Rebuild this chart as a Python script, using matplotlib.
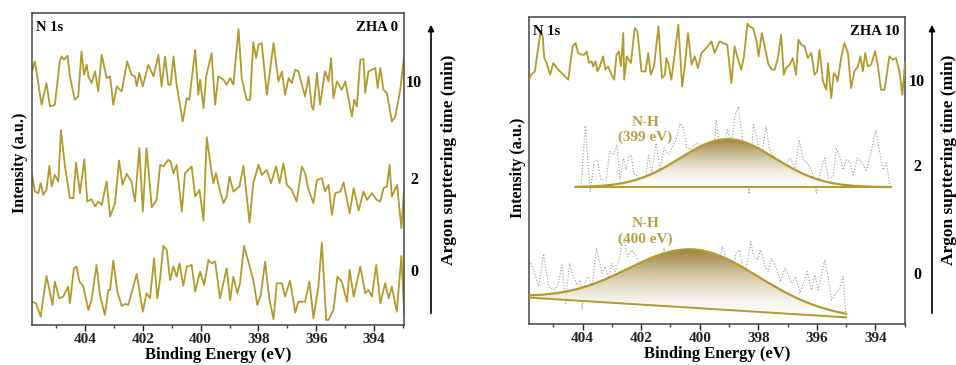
import numpy as np
import matplotlib
matplotlib.use("Agg")
import matplotlib.pyplot as plt
from matplotlib.colors import LinearSegmentedColormap
from matplotlib.patches import Polygon, FancyArrowPatch

plt.rcParams['font.family'] = ['Liberation Serif', 'DejaVu Serif']
plt.rcParams['font.weight'] = 'bold'

# ---------------- data: ZHA 0 (left panel) ----------------
zha0_10_x = [405.83, 405.73, 405.50, 405.33, 405.21, 405.04, 404.87, 404.81, 404.72, 404.60, 404.52, 404.35, 404.23, 404.12, 404.03, 403.94, 403.88, 403.77, 403.65, 403.54, 403.42, 403.25, 403.13, 403.02, 402.90, 402.73, 402.54, 402.39, 402.27, 402.21, 402.12, 402.00, 401.81, 401.63, 401.46, 401.35, 401.23, 401.12, 401.04, 400.94, 400.83, 400.62, 400.48, 400.39, 400.19, 400.08, 400.02, 399.90, 399.81, 399.62, 399.50, 399.39, 399.21, 399.10, 398.98, 398.87, 398.69, 398.58, 398.41, 398.29, 398.18, 398.08, 398.00, 397.89, 397.71, 397.48, 397.31, 397.19, 397.08, 396.96, 396.85, 396.73, 396.62, 396.50, 396.39, 396.27, 396.16, 396.10, 395.98, 395.87, 395.70, 395.58, 395.49, 395.41, 395.29, 395.12, 395.00, 394.77, 394.69, 394.60, 394.48, 394.37, 394.31, 394.20, 393.96, 393.88, 393.79, 393.68, 393.56, 393.39, 393.27, 393.10, 392.96]
zha0_10_y = [785, 815, 685, 750, 680, 685, 815, 830, 820, 832, 770, 700, 710, 845, 775, 805, 770, 750, 785, 725, 835, 765, 770, 685, 740, 725, 815, 775, 770, 740, 780, 740, 805, 770, 835, 740, 830, 745, 745, 830, 745, 635, 705, 700, 850, 715, 760, 675, 770, 840, 685, 770, 760, 745, 765, 745, 912, 765, 700, 700, 872, 825, 865, 870, 715, 870, 755, 785, 715, 765, 750, 790, 785, 745, 710, 770, 680, 670, 780, 685, 785, 755, 825, 705, 755, 730, 755, 650, 700, 680, 820, 822, 720, 785, 795, 735, 795, 730, 720, 635, 650, 730, 835]

zha0_2_x = [405.83, 405.73, 405.61, 405.53, 405.44, 405.33, 405.23, 405.15, 405.04, 404.92, 404.83, 404.69, 404.52, 404.40, 404.31, 404.17, 404.02, 403.92, 403.77, 403.65, 403.54, 403.42, 403.25, 403.13, 402.96, 402.82, 402.70, 402.56, 402.39, 402.27, 402.12, 402.00, 401.87, 401.69, 401.52, 401.40, 401.29, 401.12, 401.04, 400.94, 400.83, 400.65, 400.54, 400.31, 400.19, 400.04, 399.90, 399.79, 399.65, 399.56, 399.47, 399.33, 399.21, 399.10, 399.00, 398.87, 398.66, 398.52, 398.31, 398.18, 398.00, 397.89, 397.71, 397.57, 397.39, 397.27, 397.14, 397.02, 396.85, 396.68, 396.50, 396.39, 396.27, 396.10, 395.98, 395.81, 395.70, 395.58, 395.46, 395.35, 395.17, 395.06, 394.85, 394.71, 394.54, 394.37, 394.25, 394.08, 393.91, 393.79, 393.68, 393.56, 393.47, 393.39, 393.21, 393.06, 392.96]
zha0_2_y = [475, 425, 420, 450, 415, 430, 502, 440, 475, 455, 610, 500, 405, 405, 512, 420, 522, 395, 402, 380, 395, 385, 455, 350, 390, 518, 445, 478, 455, 395, 555, 365, 555, 378, 400, 505, 500, 520, 515, 480, 505, 365, 480, 500, 410, 430, 338, 588, 500, 450, 480, 425, 390, 410, 470, 425, 440, 502, 332, 450, 505, 475, 490, 450, 500, 450, 510, 445, 430, 395, 500, 480, 430, 390, 460, 465, 425, 445, 355, 420, 425, 452, 360, 435, 368, 425, 400, 420, 400, 395, 435, 440, 505, 410, 445, 315, 440]

zha0_0_x = [405.83, 405.69, 405.53, 405.33, 405.12, 405.04, 404.89, 404.75, 404.58, 404.52, 404.38, 404.29, 404.19, 404.06, 403.88, 403.77, 403.60, 403.48, 403.31, 403.19, 403.13, 403.02, 402.88, 402.73, 402.61, 402.50, 402.33, 402.21, 402.00, 401.87, 401.75, 401.61, 401.50, 401.40, 401.29, 401.17, 401.06, 400.94, 400.83, 400.73, 400.60, 400.48, 400.31, 400.19, 400.02, 399.88, 399.73, 399.62, 399.50, 399.33, 399.10, 398.98, 398.87, 398.73, 398.64, 398.50, 398.35, 398.18, 398.04, 397.92, 397.77, 397.63, 397.48, 397.37, 397.19, 397.08, 396.91, 396.73, 396.62, 396.39, 396.24, 396.10, 395.93, 395.81, 395.66, 395.58, 395.41, 395.27, 395.12, 394.94, 394.85, 394.71, 394.48, 394.31, 394.20, 394.08, 393.93, 393.79, 393.62, 393.50, 393.39, 393.22, 393.06, 392.96]
zha0_0_y = [95, 90, 50, 172, 85, 155, 105, 110, 140, 90, 195, 200, 155, 142, 70, 100, 205, 115, 55, 130, 130, 218, 125, 82, 88, 85, 140, 178, 65, 120, 105, 225, 105, 165, 262, 250, 160, 200, 170, 210, 142, 200, 205, 125, 185, 145, 220, 210, 215, 105, 195, 100, 170, 120, 150, 262, 215, 160, 85, 115, 215, 105, 42, 150, 150, 110, 158, 62, 95, 95, 155, 45, 140, 272, 40, 40, 70, 170, 155, 95, 190, 110, 200, 120, 130, 110, 205, 90, 150, 105, 140, 65, 232, 55]

# ---------------- data: ZHA 10 (right panel) ----------------
zha10_10_x = [405.83, 405.76, 405.63, 405.51, 405.43, 405.36, 405.31, 405.23, 405.11, 405.00, 404.83, 404.60, 404.49, 404.34, 404.24, 404.15, 404.03, 403.94, 403.86, 403.78, 403.69, 403.64, 403.56, 403.49, 403.41, 403.30, 403.22, 403.13, 403.01, 402.92, 402.84, 402.76, 402.69, 402.61, 402.58, 402.49, 402.35, 402.22, 402.13, 402.05, 401.99, 401.85, 401.76, 401.67, 401.56, 401.41, 401.29, 401.19, 401.14, 401.06, 400.97, 400.85, 400.73, 400.60, 400.51, 400.40, 400.28, 400.17, 400.06, 399.94, 399.83, 399.72, 399.60, 399.49, 399.32, 399.21, 399.06, 398.92, 398.81, 398.72, 398.58, 398.49, 398.37, 398.30, 398.18, 398.07, 397.99, 397.88, 397.76, 397.65, 397.53, 397.44, 397.33, 397.22, 397.13, 397.05, 396.93, 396.82, 396.71, 396.63, 396.53, 396.42, 396.31, 396.19, 396.08, 395.99, 395.91, 395.79, 395.68, 395.62, 395.51, 395.42, 395.34, 395.29, 395.17, 395.06, 394.94, 394.83, 394.72, 394.60, 394.51, 394.43, 394.35, 394.26, 394.15, 394.01, 393.92, 393.81, 393.69, 393.52, 393.41, 393.30, 393.18, 393.08, 392.99]
zha10_10_y = [760, 775, 785, 860, 905, 890, 825, 810, 775, 810, 790, 770, 760, 860, 870, 840, 835, 835, 845, 810, 815, 800, 815, 785, 800, 830, 790, 800, 775, 760, 835, 845, 800, 900, 760, 830, 810, 915, 905, 840, 785, 785, 840, 775, 800, 920, 765, 775, 825, 805, 760, 840, 925, 740, 800, 900, 805, 830, 795, 840, 850, 860, 875, 840, 875, 870, 865, 750, 860, 830, 790, 830, 928, 920, 915, 880, 830, 900, 850, 805, 790, 790, 825, 895, 775, 795, 805, 825, 775, 880, 865, 860, 825, 840, 775, 785, 850, 755, 730, 810, 705, 780, 770, 755, 825, 870, 840, 735, 785, 800, 830, 785, 840, 800, 805, 845, 805, 730, 730, 830, 820, 825, 785, 715, 810]

zha10_2_x = [404.05, 403.91, 403.74, 403.60, 403.49, 403.38, 403.19, 403.08, 402.94, 402.83, 402.72, 402.60, 402.51, 402.43, 402.34, 402.26, 402.17, 402.03, 401.86, 401.75, 401.64, 401.49, 401.35, 401.22, 401.07, 400.92, 400.81, 400.67, 400.56, 400.44, 400.33, 400.22, 400.10, 399.93, 399.71, 399.54, 399.44, 399.33, 399.19, 399.06, 398.91, 398.80, 398.68, 398.57, 398.42, 398.31, 398.17, 398.03, 397.89, 397.74, 397.62, 397.49, 397.32, 397.21, 397.06, 396.90, 396.75, 396.60, 396.47, 396.33, 396.18, 396.01, 395.84, 395.73, 395.61, 395.44, 395.33, 395.22, 395.10, 394.99, 394.87, 394.76, 394.62, 394.48, 394.31, 394.13, 393.99, 393.88, 393.74, 393.62, 393.51]
zha10_2_y = [440, 622, 425, 515, 520, 460, 460, 545, 535, 565, 460, 525, 490, 530, 535, 480, 475, 450, 455, 535, 480, 570, 490, 555, 535, 560, 580, 630, 615, 555, 550, 565, 570, 565, 565, 500, 640, 570, 530, 610, 570, 650, 680, 600, 510, 418, 625, 580, 520, 620, 555, 525, 505, 490, 505, 525, 490, 580, 520, 510, 490, 420, 500, 525, 465, 470, 552, 530, 490, 520, 515, 475, 525, 515, 485, 550, 608, 555, 490, 510, 440]

zha10_0_x = [405.78, 405.65, 405.50, 405.33, 405.16, 404.99, 404.85, 404.70, 404.59, 404.44, 404.33, 404.19, 404.08, 404.02, 403.91, 403.80, 403.68, 403.53, 403.42, 403.34, 403.23, 403.11, 403.00, 402.89, 402.77, 402.66, 402.58, 402.47, 402.32, 402.20, 402.09, 401.98, 401.81, 401.64, 401.47, 401.35, 401.22, 401.13, 401.01, 400.88, 400.73, 400.61, 400.48, 400.33, 400.19, 400.08, 399.93, 399.82, 399.67, 399.53, 399.40, 399.31, 399.22, 399.06, 398.91, 398.76, 398.63, 398.53, 398.40, 398.26, 398.17, 398.03, 397.92, 397.77, 397.66, 397.55, 397.40, 397.24, 397.09, 396.98, 396.86, 396.72, 396.58, 396.44, 396.33, 396.18, 396.07, 395.95, 395.84, 395.73, 395.61, 395.50, 395.39, 395.22, 395.10, 395.01]
zha10_0_y = [210, 185, 140, 238, 140, 130, 142, 205, 90, 210, 175, 145, 160, 70, 155, 170, 140, 255, 215, 180, 200, 165, 210, 185, 215, 265, 280, 230, 250, 235, 215, 190, 200, 120, 180, 215, 255, 215, 170, 180, 210, 240, 225, 220, 225, 245, 215, 235, 190, 195, 230, 220, 260, 205, 180, 240, 250, 195, 200, 275, 235, 220, 250, 200, 185, 225, 200, 155, 195, 175, 150, 170, 120, 155, 185, 130, 175, 130, 175, 220, 165, 100, 115, 135, 170, 50]

# fitted N-H components (center eV, height a.u., FWHM eV) and baselines
fit2_center, fit2_height, fit2_fwhm = 399.05, 144, 3.8
fit2_base_x = [404.24, 393.47]
fit2_base_y = [438, 438]
fit0_center, fit0_height, fit0_fwhm = 400.22, 175, 5.2
fit0_base_x = [405.83, 395.00]
fit0_base_y = [107, 48]

sputter_labels = ['10', '2', '0']
xticks_major = [404, 402, 400, 398, 396, 394]
xticks_minor = [405, 403, 401, 399, 397, 395, 393]

GOLD = '#b39a2c'
TEXT_GOLD = '#b89f3e'
FILL_TOP = '#957a2c'

fig = plt.figure(figsize=(9.56, 3.65), dpi=100)
axL = fig.add_axes([32/956, 1-325/365, 372/956, 312/365])
axR = fig.add_axes([529/956, 1-324/365, 376/956, 307/365])

for ax, ylab_x, ylab_y in ((axL, -0.012, 0.52), (axR, -0.009, 0.51)):
    for s in ax.spines.values():
        s.set_color('#444444')
        s.set_linewidth(1.1)
    ax.set_xticks(xticks_major)
    ax.set_xticks(xticks_minor, minor=True)
    ax.tick_params(axis='x', which='major', direction='out', length=4, width=1,
                   labelsize=11, pad=1.5, colors='#222222')
    ax.tick_params(axis='x', which='minor', direction='out', length=2.5, width=1, colors='#444444')
    ax.set_yticks([])
    for lab in ax.get_xticklabels():
        lab.set_fontweight('bold')
    ax.set_xlabel('Binding Energy (eV)', fontsize=12, fontweight='bold', labelpad=1)
    ax.set_ylabel('Intensity (a.u.)', fontsize=11.5, fontweight='bold', labelpad=3)
    ax.yaxis.set_label_coords(ylab_x, ylab_y)

# left traces
for xs, ys in [(zha0_10_x, zha0_10_y), (zha0_2_x, zha0_2_y), (zha0_0_x, zha0_0_y)]:
    axL.plot(xs, ys, color=GOLD, lw=1.3)
axL.set_xlim(405.83, 392.97)
axL.set_ylim(25, 960)

axL.text(0.01, 0.975, 'N 1s', transform=axL.transAxes, ha='left', va='top', fontsize=10.5, fontweight='bold')
axL.text(0.985, 0.975, 'ZHA 0', transform=axL.transAxes, ha='right', va='top', fontsize=10.5, fontweight='bold')

# right traces
axR.plot(zha10_10_x, zha10_10_y, color=GOLD, lw=1.3, zorder=3)
axR.plot(zha10_2_x, zha10_2_y, color='#999999', lw=0.8, ls=':', zorder=2)
axR.plot(zha10_0_x, zha10_0_y, color='#999999', lw=0.8, ls=':', zorder=2)

cmap = LinearSegmentedColormap.from_list('g', ['#ffffff', FILL_TOP])

def draw_fit(ax, center, height, fwhm, bx, by):
    xx = np.linspace(min(bx), max(bx), 400)
    order = np.argsort(bx)
    base = np.interp(xx, np.asarray(bx)[order], np.asarray(by)[order])
    sig = fwhm / 2.3548
    curve = base + height * np.exp(-(xx - center) ** 2 / (2 * sig ** 2))
    verts = np.column_stack([np.concatenate([xx, xx[::-1]]), np.concatenate([curve, base[::-1]])])
    poly = Polygon(verts, closed=True, facecolor='none', edgecolor='none')
    ax.add_patch(poly)
    ymin, ymax = base.min(), curve.max()
    grad = np.linspace(0, 1, 256).reshape(-1, 1) ** 1.6
    im = ax.imshow(grad, cmap=cmap, aspect='auto', origin='lower',
                   extent=[xx.min(), xx.max(), ymin, ymax], zorder=2.5, alpha=0.95, vmin=0, vmax=1)
    im.set_clip_path(poly)
    ax.plot(xx, curve, color=GOLD, lw=1.6, zorder=4)
    ax.plot(bx, by, color=GOLD, lw=1.4, zorder=4)

draw_fit(axR, fit2_center, fit2_height, fit2_fwhm, fit2_base_x, fit2_base_y)
draw_fit(axR, fit0_center, fit0_height, fit0_fwhm, fit0_base_x, fit0_base_y)
axR.set_xlim(405.83, 392.99)
axR.set_ylim(28, 948)

axR.text(0.01, 0.975, 'N 1s', transform=axR.transAxes, ha='left', va='top', fontsize=10.5, fontweight='bold')
axR.text(0.985, 0.975, 'ZHA 10', transform=axR.transAxes, ha='right', va='top', fontsize=10.5, fontweight='bold')
axR.text(401.85, 610, 'N-H\n(399 eV)', ha='center', va='center', color=TEXT_GOLD,
         fontsize=11, fontweight='bold', linespacing=1.2)
axR.text(401.85, 305, 'N-H\n(400 eV)', ha='center', va='center', color=TEXT_GOLD,
         fontsize=11, fontweight='bold', linespacing=1.2)

# sputtering-time arrows and labels
def side_annot(x_arrow, x_lab, x_title, y_labels):
    fig.add_artist(FancyArrowPatch(
        (x_arrow / 956, 1 - 316 / 365), (x_arrow / 956, 1 - 22 / 365),
        transform=fig.transFigure, arrowstyle='-|>', mutation_scale=9, lw=1.2, color='black'))
    for lab, yy in zip(sputter_labels, y_labels):
        fig.text(x_lab / 956, 1 - yy / 365, lab, ha='center', va='center', fontsize=11.5, fontweight='bold')
    fig.text(x_title / 956, 1 - 160 / 365, 'Argon supttering time (min)', rotation=90,
             ha='center', va='center', fontsize=12.5, fontweight='bold')

side_annot(431, 414, 449, [83, 180, 272])
side_annot(932, 917, 949, [82, 167, 275])

fig.savefig('out.png', dpi=100)
